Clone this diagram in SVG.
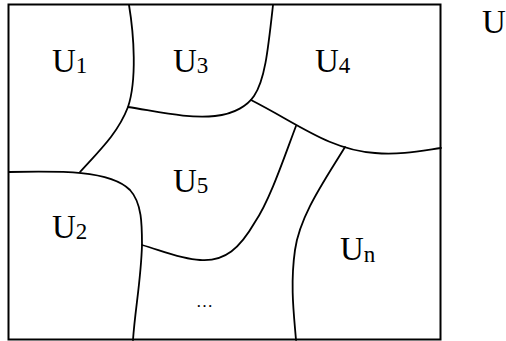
<svg xmlns="http://www.w3.org/2000/svg" width="506" height="341" viewBox="0 0 506 341">
<style>
.b{fill:none;stroke:#000;stroke-width:2}
.c{fill:none;stroke:#000;stroke-width:1.8;stroke-linecap:round}
.t{font-family:"Liberation Serif","Times New Roman",serif;font-size:33px;fill:#000}
.s{font-size:23px}
.d{font-family:"Liberation Serif","Times New Roman",serif;font-size:17px;fill:#000}
</style>
<rect width="506" height="341" fill="#fff"/>
<g id="frame"><rect class="b" x="8.5" y="4.5" width="432" height="335"/></g>
<g id="boundaries">
<path class="c" d="M129,5 C134,35 137,80 128,107 C118,133 100,150 80,172"/>
<path class="c" d="M9,172 C60,171 110,170 130,190 C142,203 142,225 142,245 C141,280 135,310 133,340"/>
<path class="c" d="M128,107 C160,112 190,119 215,116 C235,114 248,105 254,96 C265,80 268,50 273,5"/>
<path class="c" d="M251,100 C300,125 330,150 375,153 C400,155 420,151 441,148"/>
<path class="c" d="M296,126 C285,155 270,200 255,222 C240,248 225,262 200,260 C180,259 160,250 142,245"/>
<path class="c" d="M345,147 C325,180 300,215 295,250 C290,285 294,315 296,340"/>
</g>
<g id="U1"><text class="t" x="52" y="72">U<tspan class="s" dy="1">1</tspan></text></g>
<g id="U3"><text class="t" x="173" y="72">U<tspan class="s" dy="1">3</tspan></text></g>
<g id="U4"><text class="t" x="315" y="72">U<tspan class="s" dy="1">4</tspan></text></g>
<g id="U5"><text class="t" x="173" y="192">U<tspan class="s" dy="1">5</tspan></text></g>
<g id="U2"><text class="t" x="52" y="238">U<tspan class="s" dy="1">2</tspan></text></g>
<g id="Un"><text class="t" x="340" y="260">U<tspan class="s" dy="2">n</tspan></text></g>
<g id="dots"><text class="d" x="196" y="307">…</text></g>
<g id="U"><text class="t" x="482" y="33">U</text></g>
</svg>
